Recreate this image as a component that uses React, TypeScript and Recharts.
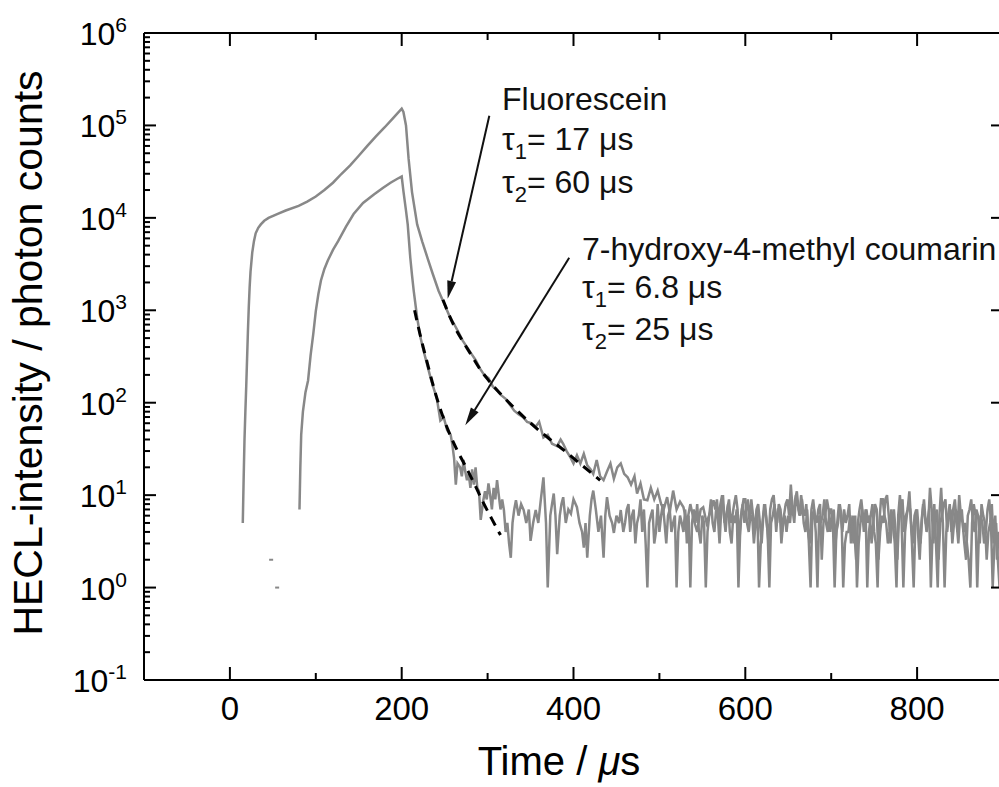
import { ComposedChart, Line, Scatter, XAxis, YAxis, ReferenceLine, Customized } from "recharts";

// Fluorescein trace (µs, photon counts)
const fluorTime = [
  15, 16, 17, 18, 19, 20, 21, 22, 23, 24, 26, 28, 30, 33, 36, 40, 45, 55, 65, 80, 90, 100, 110, 120, 130, 140, 150, 160,
  170, 180, 190, 200, 202, 205, 208, 212, 218, 224, 230, 236, 243, 250, 256, 261, 266, 271, 276, 281, 286, 291, 296, 301,
  306, 311, 316, 321, 326, 331, 336, 341, 346, 351, 356, 360, 365, 370, 375, 381, 385, 388, 392, 396, 400, 404, 408, 412,
  416, 420, 423, 427, 431, 435, 439, 443, 447, 451, 455, 459, 463, 467, 471, 474, 478, 482, 486, 490, 494, 498, 502, 505,
  509, 512, 516, 520, 524, 528, 532, 536, 540, 544, 548, 551, 555, 559, 563,
];
const fluorCounts = [
  5, 15, 40, 80, 150, 300, 600, 1100, 1800, 2600, 4200, 5600, 6800, 7800, 8500, 9300, 10000, 11000, 12000, 13500, 15000,
  17000, 20000, 24000, 30000, 37000, 47000, 60000, 76000, 95000, 120000, 152000, 140000, 100000, 44000, 19000, 8500, 5500,
  3700, 2500, 1620, 1150, 850, 710, 580, 470, 400, 340, 290, 235, 200, 185, 150, 135, 120, 110, 95, 82, 75, 70, 62, 60, 55,
  62, 42, 45, 36, 34, 40, 36, 30, 26, 22, 27, 22, 28, 21, 19, 17, 24, 16, 14.5, 18, 22, 15, 20, 22, 17, 15.6, 13, 16, 10.4,
  13.4, 9, 8.8, 12, 9, 11.2, 8, 7, 9.5, 6.5, 11.2, 7, 8.5, 7.4, 5, 8, 5.4, 4, 7, 7.4, 5, 6.5, 8.8,
];
const fluorTailStart = 565;
const fluorTailStep = 2;
const fluorTailCounts = [
  7, 9, 5, 8, 10, 6, 4, 7, 9, 5,
  6, 8, 10, 7, 3, 6, 8, 5, 7, 9,
  5, 9, 6, 4, 7, 8, 5, 3, 6, 8,
  5, 3, 7, 9, 10, 6, 5, 8, 7, 4,
  6, 8, 9, 6, 13, 7, 5, 10, 8, 6,
  10, 7, 6, 8, 4, 3, 7, 9, 6, 5,
  7, 8, 2, 5, 6, 9, 7, 4, 6, 7,
  3, 5, 8, 6, 4, 7, 5, 6, 8, 3,
  6, 4, 2, 5, 7, 9, 6, 4, 7, 5,
  6, 3, 5, 8, 7, 2, 4, 6, 5, 9,
  10, 6, 3, 5, 7, 4, 2, 6, 8, 9,
  4, 6, 7, 11, 5, 3, 6, 7, 4, 2,
  5, 8, 6, 4, 5, 12, 7, 3, 6, 7,
  2, 5, 6, 8, 9, 4, 6, 7, 3, 5,
  7, 4, 10, 6, 5, 3, 2, 6, 7, 9,
  5, 4, 7, 6, 3, 8, 6, 5, 2, 4,
  5, 8, 3, 6, 2, 4, 3, 2,
];

// 7-hydroxy-4-methyl coumarin trace
const coumTime = [
  81, 82, 83, 85, 88, 91, 94, 97, 100, 103, 106, 110, 114, 120, 126, 135, 144, 155, 168, 178, 187, 195, 200, 202, 205, 207,
  210, 212, 214, 218, 222, 226, 230, 234, 237, 241, 245, 249, 253, 257, 259, 261, 263, 265, 268, 270, 272, 274, 276, 278,
  280, 282, 284, 286, 288, 290, 292, 295, 297, 299, 301, 303, 305, 307, 309, 311, 313, 315, 317, 319, 321, 323, 325, 327,
  329, 331, 333, 336, 339, 342, 345, 348, 350, 353, 356, 359, 362, 365, 368, 370, 373, 375, 377, 379, 381, 384, 386, 388,
  391, 394, 397, 400, 404, 407, 410, 412, 414, 416, 419, 421, 423, 426, 429, 432, 435, 437, 439, 442, 445, 447, 450, 453,
  455, 458,
];
const coumCounts = [
  7, 20, 45, 80, 130, 174, 330, 550, 980, 1500, 2100, 2800, 3450, 4500, 5600, 8000, 11000, 14500, 18000, 21000, 24000,
  26500, 28000, 19500, 12000, 8500, 3700, 2400, 1620, 830, 500, 350, 250, 180, 146, 110, 64, 69, 50, 45, 35, 25, 13, 22,
  20, 16, 24, 18, 14.5, 17, 12, 19, 13, 20, 12, 11, 5.4, 8.8, 11, 9, 13.4, 10, 7, 12, 9, 14.5, 10, 7, 9, 6.9, 4, 5, 3, 2.1,
  5, 7, 8.8, 6, 8, 6.9, 5, 7, 3.2, 5, 6.9, 5, 9, 15.6, 5, 1, 6, 8, 10.4, 6, 2.3, 6, 8, 9.5, 5, 7, 6.3, 9, 7.4, 5, 4, 2.7, 5,
  2.1, 6, 9, 11.2, 7, 4, 6, 2.1, 6, 9.5, 6, 5, 3.9, 6, 5, 6.9, 4,
];
const coumTailStart = 460;
const coumTailStep = 2;
const coumTailCounts = [
  5, 7, 8, 4, 6, 7, 3, 5, 6, 9,
  4, 7, 3, 1, 5, 6, 7, 3, 4, 8,
  4, 6, 8, 5, 3, 6, 7, 4, 5, 6,
  1, 4, 6, 5, 4, 7, 3, 6, 1, 5,
  7, 5, 8, 4, 3, 6, 5, 1, 4, 6,
  9, 5, 4, 7, 6, 3, 7, 10, 5, 6,
  8, 4, 3, 6, 5, 7, 1, 4, 7, 9,
  9, 5, 4, 6, 6, 3, 5, 7, 1, 3,
  5, 8, 6, 4, 1, 5, 6, 8, 4, 7,
  7, 3, 5, 6, 4, 6, 5, 8, 6, 9,
  11, 7, 6, 9, 5, 4, 7, 3, 1, 6,
  7, 4, 1, 6, 5, 6, 9, 5, 4, 7,
  7, 5, 1, 4, 5, 8, 6, 1, 3, 4,
  4, 6, 5, 3, 6, 1, 3, 5, 7, 4,
  7, 1, 4, 6, 8, 4, 3, 1, 5, 9,
  9, 6, 5, 3, 4, 7, 5, 3, 1, 6,
  10, 5, 1, 4, 6, 8, 7, 3, 1, 5,
  7, 4, 3, 6, 9, 5, 5, 7, 1, 4,
  8, 3, 1, 6, 12, 5, 1, 4, 6, 8,
  4, 7, 9, 5, 3, 6, 7, 4, 5, 3,
  2, 1, 5, 8, 6, 1, 4, 6, 5, 3,
  4, 7, 9, 5, 1, 3, 5, 2, 1, 3,
  2,
];

// double-exponential fits
const fluorFitTime = [248, 255, 262, 270, 280, 290, 300, 315, 330, 350, 370, 390, 410, 431];
const fluorFitCounts = [1300, 900, 650, 480, 340, 240, 180, 125, 90, 60, 42, 30, 21, 14.5];
const coumFitTime = [215, 220, 225, 230, 237, 245, 255, 265, 275, 285, 295, 305, 315];
const coumFitCounts = [1000, 620, 400, 265, 150, 85, 48, 30, 20, 13, 8.3, 5.5, 3.7];

// isolated counts before the coumarin onset
const strayTime = [48, 55];
const strayCounts = [2, 1];

const xTicks = [0, 100, 200, 300, 400, 500, 600, 700, 800];
const xMajor = [0, 200, 400, 600, 800];
const decades = [-1, 0, 1, 2, 3, 4, 5, 6];
const decadeTicks = decades.map((e) => Number(Math.pow(10, e).toPrecision(3)));

const yTicks: number[] = [];
decades.forEach((e) => {
  for (let m = 1; m <= 9; m++) {
    if (e === 6 && m > 1) break;
    yTicks.push(Number((m * Math.pow(10, e)).toPrecision(3)));
  }
});

const toPoints = (ts: number[], vs: number[]) => ts.map((t, i) => ({ t, v: vs[i] }));
const fluorData = [
  ...toPoints(fluorTime, fluorCounts),
  ...fluorTailCounts.map((v, i) => ({ t: fluorTailStart + i * fluorTailStep, v })),
];
const coumData = [
  ...toPoints(coumTime, coumCounts),
  ...coumTailCounts.map((v, i) => ({ t: coumTailStart + i * coumTailStep, v })),
];
const fluorFit = toPoints(fluorFitTime, fluorFitCounts);
const coumFit = toPoints(coumFitTime, coumFitCounts);
const stray = toPoints(strayTime, strayCounts);

const FONT = "'Liberation Sans', Arial, Helvetica, sans-serif";
const TRACE = "#888888";

const isDecade = (v: number) => Math.abs(Math.log10(v) - Math.round(Math.log10(v))) < 1e-6;

const LeftTick = ({ x, y, payload }: any) => {
  const v = payload.value;
  const major = isDecade(v);
  return (
    <g>
      <line x1={x} y1={y} x2={x + (major ? 12 : 6)} y2={y} stroke="#000" strokeWidth={2} />
      {major && (
        <text x={x - 17} y={y + 12} textAnchor="end" fontSize={32} fill="#000" fontFamily={FONT}>
          10<tspan dy={-13} fontSize={21}>{Math.round(Math.log10(v))}</tspan>
        </text>
      )}
    </g>
  );
};

const RightTick = ({ x, y }: any) => <line x1={x} y1={y} x2={x - 12} y2={y} stroke="#000" strokeWidth={2} />;

const BottomTick = ({ x, y, payload }: any) => {
  const major = xMajor.includes(payload.value);
  return (
    <g>
      <line x1={x} y1={y} x2={x} y2={y - (major ? 13 : 7)} stroke="#000" strokeWidth={2} />
      {major && (
        <text x={x} y={y + 40} textAnchor="middle" fontSize={33} fill="#000" fontFamily={FONT}>
          {payload.value}
        </text>
      )}
    </g>
  );
};

const TopTick = ({ x, y, payload }: any) => {
  const major = xMajor.includes(payload.value);
  return <line x1={x} y1={y} x2={x} y2={y + (major ? 13 : 7)} stroke="#000" strokeWidth={2} />;
};

const Arrow = ({ x1, y1, x2, y2 }: any) => {
  const a = Math.atan2(y2 - y1, x2 - x1);
  const len = 18;
  const w = 4.5;
  const bx = x2 - len * Math.cos(a);
  const by = y2 - len * Math.sin(a);
  const px = -Math.sin(a) * w;
  const py = Math.cos(a) * w;
  return (
    <g>
      <line x1={x1} y1={y1} x2={bx} y2={by} stroke="#111" strokeWidth={2} />
      <polygon points={`${x2},${y2} ${bx + px},${by + py} ${bx - px},${by - py}`} fill="#111" />
    </g>
  );
};

const Tau = ({ x, y, n, rest }: { x: number; y: number; n: number; rest: string }) => (
  <text x={x} y={y} fontSize={32} fill="#111" fontFamily={FONT}>
    τ<tspan dy={9} fontSize={22}>{n}</tspan>
    <tspan dy={-9}>{rest}</tspan>
  </text>
);

const Annotations = () => (
  <g>
    <text
      x={42}
      y={353}
      fontSize={41}
      textAnchor="middle"
      fill="#000"
      fontFamily={FONT}
      transform="rotate(-90 42 353)"
    >
      HECL-intensity / photon counts
    </text>
    <text x={559} y={775} fontSize={40} textAnchor="middle" fill="#000" fontFamily={FONT}>
      Time / <tspan fontStyle="italic">μ</tspan>s
    </text>
    <text x={502} y={110} fontSize={32} fill="#111" fontFamily={FONT}>
      Fluorescein
    </text>
    <Tau x={502} y={150} n={1} rest="= 17 μs" />
    <Tau x={502} y={193} n={2} rest="= 60 μs" />
    <text x={582} y={260} fontSize={32} fill="#111" fontFamily={FONT}>
      7-hydroxy-4-methyl coumarin
    </text>
    <Tau x={582} y={298} n={1} rest="= 6.8 μs" />
    <Tau x={582} y={340} n={2} rest="= 25 μs" />
  </g>
);

const StrayMark = ({ cx, cy }: any) => <rect x={cx - 2} y={cy - 1} width={4} height={2} fill={TRACE} />;

const axisLine = { stroke: "#000", strokeWidth: 2 };

export default function App() {
  return (
    <div
      style={{ position: "fixed", left: 0, top: 0, width: 999, height: 787, overflow: "hidden", background: "#fff" }}
    >
      <ComposedChart width={1010} height={787} margin={{ top: 0, right: 0, bottom: 0, left: 0 }}>
        <XAxis
          dataKey="t"
          type="number"
          domain={[-100, 900]}
          allowDataOverflow
          ticks={xTicks}
          interval={0}
          height={107}
          tickSize={0}
          tickMargin={0}
          tickLine={false}
          axisLine={axisLine}
          tick={<BottomTick />}
        />
        <XAxis
          xAxisId="top"
          orientation="top"
          dataKey="t"
          type="number"
          domain={[-100, 900]}
          allowDataOverflow
          ticks={xTicks}
          interval={0}
          height={33}
          tickSize={0}
          tickMargin={0}
          tickLine={false}
          axisLine={axisLine}
          tick={<TopTick />}
        />
        <YAxis
          type="number"
          scale="log"
          domain={[0.1, 1e6]}
          allowDataOverflow
          ticks={yTicks}
          interval={0}
          width={144}
          tickSize={0}
          tickMargin={0}
          tickLine={false}
          axisLine={axisLine}
          tick={<LeftTick />}
        />
        <YAxis
          yAxisId="right"
          orientation="right"
          type="number"
          scale="log"
          domain={[0.1, 1e6]}
          allowDataOverflow
          ticks={decadeTicks}
          interval={0}
          width={7}
          tickSize={0}
          tickMargin={0}
          tickLine={false}
          axisLine={axisLine}
          tick={<RightTick />}
        />
        <Line data={fluorData} dataKey="v" stroke={TRACE} strokeWidth={2.5} dot={false} type="linear" isAnimationActive={false} />
        <Line data={coumData} dataKey="v" stroke={TRACE} strokeWidth={2.5} dot={false} type="linear" isAnimationActive={false} />
        <Scatter data={stray} dataKey="v" shape={<StrayMark />} isAnimationActive={false} />
        <Line
          data={fluorFit}
          dataKey="v"
          stroke="#000"
          strokeWidth={3}
          strokeDasharray="10 7"
          dot={false}
          type="monotone"
          isAnimationActive={false}
        />
        <Line
          data={coumFit}
          dataKey="v"
          stroke="#000"
          strokeWidth={3}
          strokeDasharray="10 7"
          dot={false}
          type="monotone"
          isAnimationActive={false}
        />
        <ReferenceLine
          segment={[{ x: 302, y: 127000 }, { x: 253.5, y: 1334 }]}
          ifOverflow="visible"
          shape={(p: any) => <Arrow {...p} />}
        />
        <ReferenceLine
          segment={[{ x: 395, y: 3700 }, { x: 274, y: 57 }]}
          ifOverflow="visible"
          shape={(p: any) => <Arrow {...p} />}
        />
        <Customized component={Annotations} />
      </ComposedChart>
    </div>
  );
}
